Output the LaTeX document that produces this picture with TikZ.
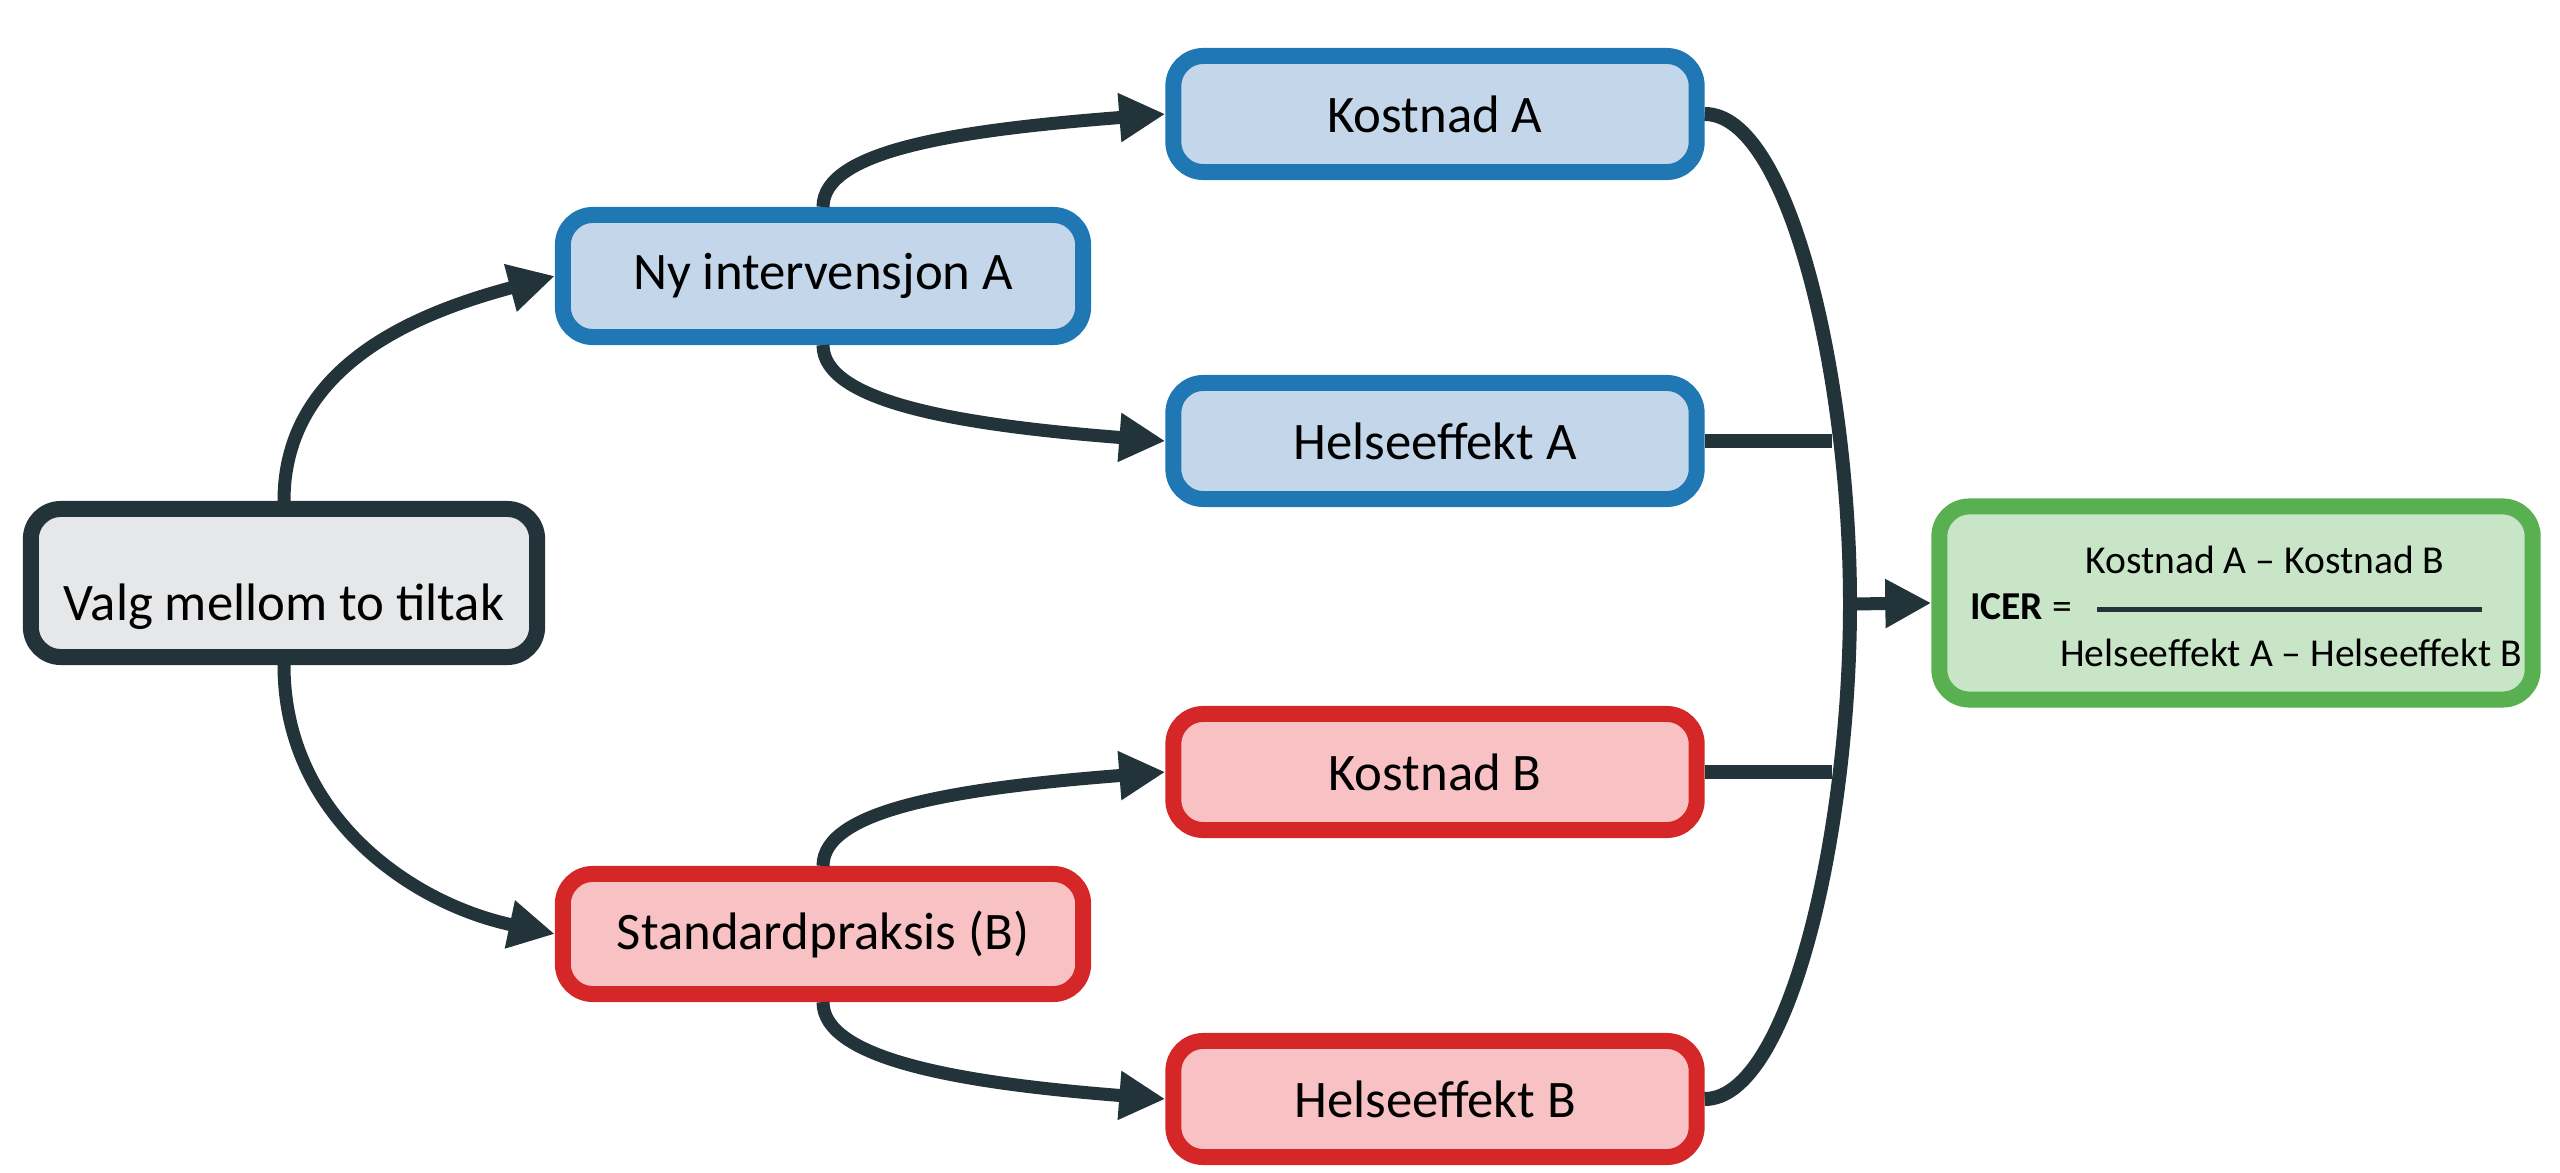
\documentclass[tikz,border=0pt]{standalone}
\usepackage{fontspec}
\setmainfont{Carlito}
\usetikzlibrary{arrows.meta}

\definecolor{darkline}{HTML}{22343A}
\definecolor{greyfill}{HTML}{E6E7E9}
\definecolor{blueline}{HTML}{1F77B4}
\definecolor{bluefill}{HTML}{C3D6EA}
\definecolor{redline}{HTML}{D62728}
\definecolor{redfill}{HTML}{F8C2C4}
\definecolor{greenline}{HTML}{59B050}
\definecolor{greenfill}{HTML}{C8E5C8}

\begin{document}
\begin{tikzpicture}[
    x=0.01cm, y=-0.01cm,
    box/.style={rounded corners=0.3cm, line width=0.16cm, align=center,
        font=\fontsize{15pt}{18pt}\selectfont},
    startbox/.style={box, draw=darkline, fill=greyfill,
        minimum width=5.06cm, minimum height=1.48cm},
    optA/.style={box, draw=blueline, fill=bluefill,
        minimum width=5.20cm, minimum height=1.22cm},
    optB/.style={box, draw=redline, fill=redfill,
        minimum width=5.20cm, minimum height=1.20cm},
    outA/.style={box, draw=blueline, fill=bluefill,
        minimum width=5.23cm, minimum height=1.16cm},
    outB/.style={box, draw=redline, fill=redfill,
        minimum width=5.23cm, minimum height=1.16cm},
    result/.style={box, draw=greenline, fill=greenfill,
        minimum width=5.93cm, minimum height=1.93cm},
    small/.style={font=\fontsize{11.25pt}{13pt}\selectfont},
    flow/.style={-{Triangle[length=0.46cm, width=0.46cm]},
        line width=0.13cm, draw=darkline},
    brace/.style={line width=0.14cm, draw=darkline}
]
\useasboundingbox (0,0) rectangle (2560,1173);

% start and the two options
\node[startbox] (valg) at (284,583) {};
\node[font=\fontsize{15pt}{18pt}\selectfont] (valgtxt) at (284,607) {Valg mellom to tiltak};
\node[optA] (ny) at (823,276) {Ny intervensjon A};
\node[optB] (std) at (823,934) {Standardpraksis (B)};

% costs and effects
\node[outA] (kA) at (1435,114) {Kostnad A};
\node[outA] (hA) at (1435,441) {Helseeffekt A};
\node[outB] (kB) at (1435,772) {Kostnad B};
\node[outB] (hB) at (1435,1099) {Helseeffekt B};

% ICER
\node[result] (icer) at (2236,603) {};
\node[small] (icerlbl) at (2021,607) {\textbf{ICER} =};
\node[small] (num) at (2265,560) {Kostnad A -- Kostnad B};
\node[small] (den) at (2291,653) {Helseeffekt A -- Helseeffekt B};
\draw[line width=0.05cm, darkline] (2097,609) -- (2482,609);

\draw[flow] (valg.north) to[out=90, in=195] (ny.west);
\draw[flow] (valg.south) to[out=-90, in=168] (std.west);
\draw[flow] (ny.north) .. controls +(0,-57) and +(-206,16) .. (kA.west);
\draw[flow] (ny.south) .. controls +(0,57) and +(-206,-16) .. (hA.west);
\draw[flow] (std.north) .. controls +(0,-57) and +(-206,16) .. (kB.west);
\draw[flow] (std.south) .. controls +(0,57) and +(-206,-16) .. (hB.west);

% bracket
\coordinate (join) at (1850,604);
\coordinate (jA) at (1832,441);
\coordinate (jB) at (1832,772);
\draw[brace] (kA.east) .. controls (1790,114) and (1850,380) .. (join)
    .. controls (1850,830) and (1790,1099) .. (hB.east);
\draw[brace] (hA.east) -- (jA);
\draw[brace] (kB.east) -- (jB);
\draw[flow] (join) -- (icer.west);

\end{tikzpicture}
\end{document}
